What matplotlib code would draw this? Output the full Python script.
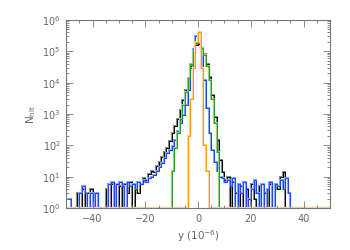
import numpy as np
import matplotlib
matplotlib.use('Agg')
import matplotlib.pyplot as plt
from matplotlib.ticker import MultipleLocator, LogLocator, NullFormatter

plt.rcParams['font.family'] = 'DejaVu Sans'

# histogram edges (units of 1e-6), one count per unit bin
edges = np.arange(-50, 51, 1)

# black / gray series, bins -50 .. 34
black_counts = [0, 0, 0, 0, 3, 0, 4, 0, 3, 4, 0, 3, 0, 0, 0, 4, 0, 6, 3, 0,
                5, 0, 6, 3, 7, 0, 5, 3, 6, 9,
                8, 12, 15, 14, 22, 30, 42, 60, 85, 140, 250, 400, 700, 1300, 2800,
                6000, 14000, 35000, 80000, 160000, 170000, 130000, 80000, 40000,
                15000, 4000, 800, 150, 35, 14,
                8, 10, 0, 7, 3, 0, 5, 0, 4, 0, 6, 2, 0, 5, 0, 3, 0, 6, 0, 5,
                4, 10, 14, 0, 0]

# blue series, bins -50 .. 34
blue_counts = [2, 2, 0, 0, 0, 3, 5, 3, 0, 3, 0, 3, 0, 0, 0, 0, 6, 7, 0, 6,
               7, 5, 0, 7, 5, 6, 4, 7, 6, 8,
               7, 9, 10, 11, 15, 20, 28, 40, 55, 70, 95, 150, 280, 500, 900,
               2000, 6000, 30000, 120000, 300000, 400000, 130000, 12000, 1500,
               250, 70, 30, 15, 10, 9,
               7, 8, 5, 9, 0, 6, 3, 7, 0, 2, 4, 8, 3, 0, 6, 0, 4, 7, 0, 6,
               5, 8, 4, 9, 3]

# green series, bins -10 .. 7
green_counts = [15, 80, 250, 700, 2000, 5000, 14000, 40000, 100000, 180000,
                190000, 130000, 75000, 35000, 12000, 3000, 500, 60]
green_start = -10

# orange series, bins -4 .. 3
orange_counts = [200, 3000, 30000, 200000, 400000, 30000, 100, 15]
orange_start = -4


def full(counts, start):
    c = np.zeros(len(edges) - 1)
    i = start - edges[0]
    c[i:i + len(counts)] = counts
    return np.clip(c, 1, None)   # empty bins sit on the axis floor


series = [
    (full(black_counts, -50), '#000000', '#8a8a8a'),
    (full(blue_counts, -50), '#1f3dff', '#80a6ff'),
    (full(green_counts, green_start), '#229922', '#90d090'),
    (full(orange_counts, orange_start), '#ff9a00', '#ffd396'),
]

fig = plt.figure(figsize=(3.5, 2.5), dpi=100)
ax = fig.add_axes([0.189, 0.168, 0.754, 0.752])

for c, col, shade in series:
    ax.stairs(c, edges, color=shade, linewidth=1.5, baseline=None)
    ax.stairs(c, edges, color=col, linewidth=0.7, baseline=None)

ax.set_yscale('log')
ax.set_xlim(-50, 50)
ax.set_ylim(1, 1e6)

axcol = '#777777'
for s in ax.spines.values():
    s.set_color(axcol)
    s.set_linewidth(0.8)

ax.xaxis.set_major_locator(MultipleLocator(20))
ax.xaxis.set_minor_locator(MultipleLocator(5))
ax.yaxis.set_minor_locator(LogLocator(base=10, subs=np.arange(2, 10), numticks=10))
ax.yaxis.set_minor_formatter(NullFormatter())
ax.set_yticks([10.0 ** k for k in range(7)])
ax.set_yticklabels(['10$^{%d}$' % k for k in range(7)])
ax.set_xticks([-40, -20, 0, 20, 40])
ax.set_xticklabels(['\u221240', '\u221220', '0', '20', '40'])

ax.tick_params(which='both', direction='in', top=True, right=True,
               colors=axcol, labelcolor='#666666', labelsize=7, width=0.6)
ax.tick_params(which='major', length=5, pad=4)
ax.tick_params(which='minor', length=2.5)

ax.set_xlabel('y (10$^{-6}$)', color='#666666', fontsize=7.5, labelpad=3)
ax.set_ylabel('N$_{\\rm hit}$', color='#666666', fontsize=7.5, labelpad=3)

fig.savefig('out.png', dpi=100)
